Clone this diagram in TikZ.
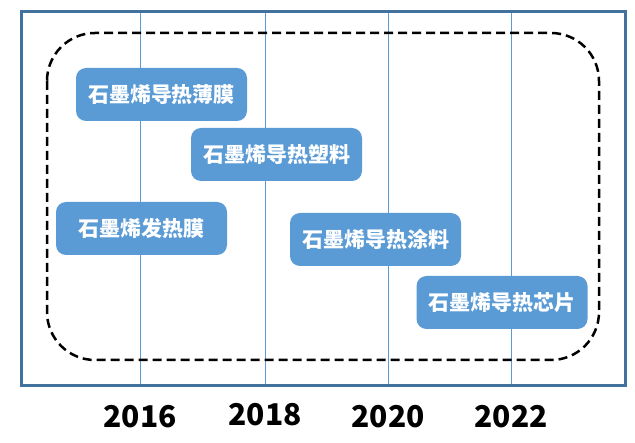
\documentclass[tikz,border=0pt]{standalone}
\usepackage{fontspec}
\usepackage{xcolor}
\usepackage{tikz}
\usetikzlibrary{positioning}
\newfontfamily\cjk{Noto Sans CJK SC}
\definecolor{framecol}{HTML}{41719C}
\definecolor{boxcol}{HTML}{5B9BD5}

\begin{document}
\begin{tikzpicture}[x=1pt, y=-1pt,
        item/.style={fill=boxcol, rounded corners=10pt, minimum width=171pt, minimum height=53pt, inner sep=0pt, text=white, font=\cjk\bfseries\fontsize{21}{25}\selectfont},
        year/.style={font=\cjk\bfseries\fontsize{30}{34}\selectfont, inner sep=0pt},
        grid/.style={draw=boxcol, line width=0.9pt}]
        \useasboundingbox (0,0) rectangle (635,443);

        % frame
        \coordinate (ftl) at (21,12);
        \coordinate (fbr) at (625,386);
        \fill[white] (ftl) rectangle (fbr);

        % years
        \node[year] (y2016) at (140,417) {2016};
        \node[year] (y2018) at (265,415) {2018};
        \node[year] (y2020) at (388,417) {2020};
        \node[year] (y2022) at (511,417) {2022};

        % grid lines
        \draw[grid] (y2016 |- ftl) -- (y2016 |- fbr);
        \draw[grid] (y2018 |- ftl) -- (y2018 |- fbr);
        \draw[grid] (y2020 |- ftl) -- (y2020 |- fbr);
        \draw[grid] (y2022 |- ftl) -- (y2022 |- fbr);

        % dashed region
        \draw[line width=2.5pt, dash pattern=on 9pt off 5pt, rounded corners=48pt] (47,33) rectangle (599,360);

        % products
        \node[item] (film) at (161.5,94.5) {石墨烯导热薄膜};
        \node[item] (plastic) at (276.5,154.5) {石墨烯导热塑料};
        \node[item] (heater) at (141.5,228.5) {石墨烯发热膜};
        \node[item] (coating) at (375.5,239.5) {石墨烯导热涂料};
        \node[item] (chip) at (502,302.5) {石墨烯导热芯片};

        \draw[framecol, line width=3pt] (ftl) rectangle (fbr);
    \end{tikzpicture}
\end{document}
